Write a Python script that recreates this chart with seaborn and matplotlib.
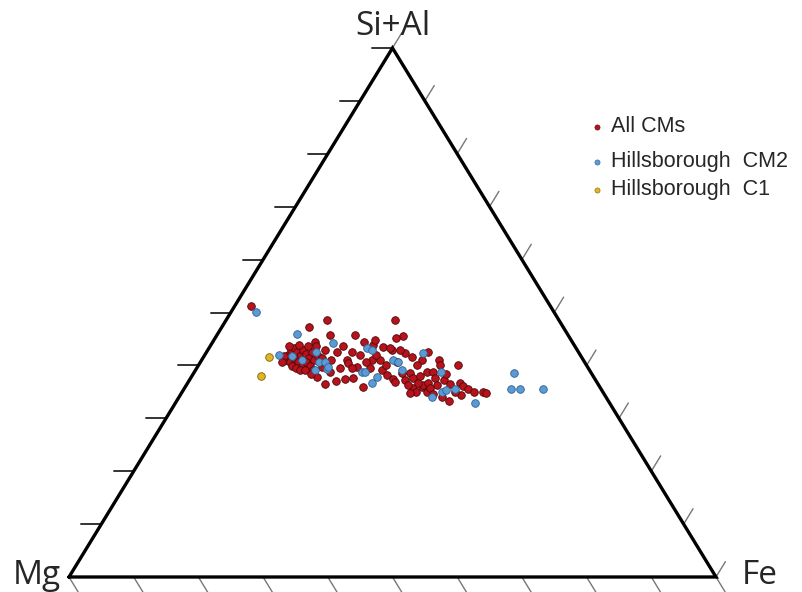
import numpy as np
import pandas as pd
import matplotlib
matplotlib.use("Agg")
import matplotlib.pyplot as plt
import seaborn as sns

# compositions in %, Mg = 100 - SiAl - Fe
all_cms_sial = [51.2, 47.3, 48.6, 48.6, 45.7, 45.7, 45.6, 44.4, 42.5, 43.9, 43.5, 42.9, 42.3, 41.6, 41.0,
                41.0, 39.7, 41.0, 39.1, 38.2, 37.4, 37.8, 37.1, 37.4, 37.6, 35.9, 38.6, 37.6, 35.9, 42.9,
                36.5, 39.7, 40.5, 39.5, 39.5, 45.2, 40.6, 36.9, 42.5, 38.6, 35.7, 36.3, 36.7, 38.8, 38.8,
                41.0, 40.1, 37.6, 35.0, 33.3, 40.1, 36.7, 36.1, 35.5, 34.4, 35.0, 35.0, 34.8, 36.7, 41.0,
                42.0, 43.3, 42.0, 42.9, 43.3, 42.5, 41.8, 42.9, 42.2, 41.4, 42.5, 41.0, 40.6, 41.4, 40.6,
                39.9, 40.6, 39.9, 41.0, 41.8, 41.8, 39.9, 39.5, 39.1, 39.1, 39.1, 40.6, 43.7, 43.7, 43.7,
                41.4, 40.6, 43.9, 38.4, 37.2, 36.3, 35.0, 38.0, 35.7, 36.3, 37.2, 36.5, 35.0, 34.0, 34.6,
                38.4, 34.8, 43.7, 44.4, 42.0, 40.1, 40.6, 39.5, 41.0, 44.8, 38.8, 42.5, 42.9, 40.1]
all_cms_fe = [2.5, 13.5, 15.6, 26.1, 21.3, 17.5, 28.8, 15.8, 20.2, 25.1, 26.8, 28.5, 30.8, 32.2, 34.1,
              22.5, 24.7, 27.6, 28.8, 30.1, 31.4, 19.4, 22.7, 23.9, 25.1, 27.5, 33.4, 34.4, 36.6, 18.1,
              21.3, 19.3, 22.9, 24.0, 26.8, 28.0, 30.4, 32.0, 34.2, 32.2, 35.3, 36.6, 37.2, 36.0, 36.9,
              36.7, 37.3, 37.8, 37.8, 42.1, 40.1, 42.1, 42.8, 43.9, 43.4, 45.1, 46.5, 47.1, 35.6, 26.3,
              24.0, 28.0, 12.9, 12.9, 13.1, 14.0, 14.8, 14.7, 15.6, 16.4, 16.3, 13.0, 13.8, 14.1, 15.1,
              16.1, 16.3, 17.3, 17.4, 17.6, 12.3, 14.5, 15.3, 16.1, 16.9, 18.1, 18.5, 12.2, 16.3, 15.1,
              18.4, 12.6, 13.6, 18.2, 33.3, 34.3, 36.1, 35.3, 37.9, 38.7, 39.3, 40.7, 42.2, 40.6, 39.0,
              39.1, 35.3, 20.5, 23.4, 26.5, 29.0, 25.6, 22.1, 20.0, 24.9, 21.0, 22.5, 29.7, 33.8]

cm2_sial = [50.1, 45.9, 42.0, 44.2, 43.3, 41.0, 40.6, 42.5, 40.6, 39.3, 39.1, 38.8, 38.8, 37.8, 36.7, 42.3,
            39.1, 41.0, 38.8, 34.0, 35.0, 35.4, 35.5, 32.9, 38.6, 35.5, 35.5, 35.5, 40.6, 39.7, 42.9, 41.8]
cm2_fe = [3.9, 12.3, 11.5, 18.7, 24.4, 29.6, 30.5, 16.9, 18.3, 20.2, 18.5, 25.9, 26.4, 28.7, 28.5, 33.5,
          31.9, 15.5, 38.1, 39.1, 40.2, 40.6, 41.9, 46.3, 49.5, 50.5, 51.9, 55.5, 19.3, 20.2, 25.4, 13.6]

c1_sial = [41.6, 38.0]
c1_fe = [10.1, 10.7]

groups = ["All CMs", "Hillsborough  CM2", "Hillsborough  C1"]
colors = ["#b8121c", "#5b9bd5", "#e3b51f"]
edges = ["#4a0808", "#2e5f8c", "#7a6210"]

rows = []
for g, sa, fe in zip(groups, [all_cms_sial, cm2_sial, c1_sial], [all_cms_fe, cm2_fe, c1_fe]):
    for a, b in zip(sa, fe):
        rows.append({"group": g, "sial": a / 100, "fe": b / 100})
df = pd.DataFrame(rows)
df["mg"] = 1 - df["sial"] - df["fe"]
# ternary -> cartesian
df["x"] = df["fe"] + df["sial"] / 2
df["y"] = df["sial"]

sns.set_style("white")
fig = plt.figure(figsize=(8.03, 5.92), dpi=100)
ax = fig.add_axes([0, 0, 1, 1])

# ticks
tl = 0.031
for k in range(1, 11):
    y = k / 10
    ax.plot([y / 2, y / 2 - tl], [y, y], color="#333333", lw=1.4, zorder=1)
t = 0.029
for k in range(0, 11):
    y = k / 10
    xr = 1 - y / 2
    ax.plot([xr, xr + t * 0.5], [y, y + t], color="#777777", lw=1.0, zorder=1)
    xb = k / 10
    ax.plot([xb, xb + t * 0.5], [0, -t], color="#777777", lw=1.0, zorder=1)

# triangle
ax.plot([0, 1, 0.5, 0], [0, 0, 1, 0], color="black", lw=2.4, zorder=2, solid_joinstyle="miter")

for g, c, e in zip(groups, colors, edges):
    sns.scatterplot(data=df[df["group"] == g], x="x", y="y", color=c, edgecolor=e,
                    linewidth=0.6, s=30, ax=ax, zorder=3, legend=False)
ax.set_xlim(-69 / 647, (803 - 69) / 647)
ax.set_ylim(-15 / 529, 577 / 529)
ax.axis("off")

fnt = ["Open Sans", "DejaVu Sans"]
ax.text(0.5, 1.0246, "Si+Al", ha="center", va="baseline", fontsize=24, family=fnt)
ax.text(-0.012, 0.003, "Mg", ha="right", va="center", fontsize=24, family=fnt)
ax.text(1.04, 0.003, "Fe", ha="left", va="center", fontsize=24, family=fnt)

# legend
leg_y = [127, 162, 190]
for lab, c, e, py in zip(groups, colors, edges, leg_y):
    fy = 1 - py / 592
    ax.scatter([597 / 803], [fy], s=14, color=c, edgecolor=e, linewidth=0.4, transform=ax.transAxes)
    ax.text(611 / 803, fy, lab, ha="left", va="center", fontsize=15.5,
            family=["Liberation Sans", "DejaVu Sans"], transform=ax.transAxes)

fig.savefig("out.png", dpi=100)
